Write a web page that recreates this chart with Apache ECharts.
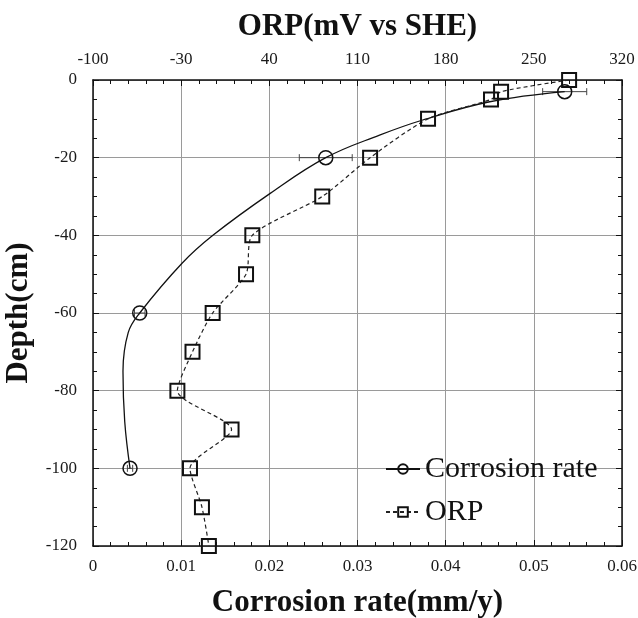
<!DOCTYPE html>
<html>
<head>
<meta charset="utf-8">
<script src="https://cdn.jsdelivr.net/npm/echarts@6/dist/echarts.min.js"></script>
<style>
  html,body{margin:0;padding:0;background:#fff;}
  #main{width:638px;height:618px;}
</style>
</head>
<body>
<div id="main"></div>
<script>
// corrosion rate markers (mm/y) vs depth (cm), with error bars
const corrDepth = [-3, -20, -60, -100]
const corrRate = [0.0535, 0.0264, 0.0053, 0.0042]
const corrErr = [0.0025, 0.003, 0.0006, 0.0003]

// fitted trend line of corrosion rate
const curveDepth = [-5.6, -10.3, -14.2, -29.2, -40, -47.2, -65, -75, -88]
const curveRate = [0.045, 0.0374, 0.0325, 0.0201, 0.0136, 0.0101, 0.0040, 0.0034, 0.0036]

// ORP (mV vs SHE) vs depth
const orpDepth = [0, -3, -5, -10, -20, -30, -40, -50, -60, -70, -80, -90, -100, -110, -120]
const orpValue = [278, 224, 216, 166, 120, 82, 26.5, 21.5, -5, -21, -33, 10, -23, -13.5, -8]

const serif = '"Liberation Serif", "Times New Roman", serif'

function initChart(){
  const myChart = echarts.init(document.querySelector('#main'))

  // merge markers and curve points in depth order, curve-only points get no symbol
  const corrLine = []
  corrDepth.forEach((d, i) => corrLine.push({ value: [corrRate[i], d] }))
  curveDepth.forEach((d, i) => corrLine.push({ value: [curveRate[i], d], symbol: 'none' }))
  corrLine.sort((a, b) => b.value[1] - a.value[1])

  const errData = corrDepth.map((d, i) => [corrRate[i], d, corrErr[i]])

  const axisLine = { show: true, onZero: false, lineStyle: { color: '#111', width: 1.5 } }
  const tick = { show: true, inside: true, length: 6, lineStyle: { color: '#111', width: 1 } }
  const minor = { show: true, length: 4, lineStyle: { color: '#111', width: 1 } }
  const label = { fontFamily: serif, fontSize: 17, color: '#1a1a1a' }
  const nameStyle = { fontFamily: serif, fontSize: 31, fontWeight: 'bold', color: '#111' }

  const option = {
    backgroundColor: '#fff',
    animation: false,
    grid: { left: 93, right: 16, top: 80, bottom: 72, outerBoundsMode: 'none', containLabel: false },
    legend: {
      orient: 'vertical',
      left: 380,
      top: 449,
      itemWidth: 34,
      itemHeight: 12,
      itemGap: 13,
      textStyle: { fontFamily: serif, fontSize: 30, color: '#111' },
      data: ['Corrosion rate', 'ORP']
    },
    xAxis: [
      {
        type: 'value',
        position: 'bottom',
        min: 0, max: 0.06, interval: 0.01,
        name: 'Corrosion rate(mm/y)',
        nameLocation: 'middle',
        nameGap: 41,
        nameTextStyle: nameStyle,
        axisLine: axisLine,
        axisTick: tick,
        minorTick: Object.assign({ splitNumber: 5 }, minor),
        axisLabel: Object.assign({ margin: 12 }, label),
        splitLine: { show: true, lineStyle: { color: '#9a9a9a', width: 1 } }
      },
      {
        type: 'value',
        position: 'top',
        min: -100, max: 320, interval: 70,
        name: 'ORP(mV vs SHE)',
        nameLocation: 'middle',
        nameGap: 38,
        nameTextStyle: nameStyle,
        axisLine: axisLine,
        axisTick: tick,
        minorTick: Object.assign({ splitNumber: 5 }, minor),
        axisLabel: Object.assign({ margin: 12 }, label),
        splitLine: { show: false }
      }
    ],
    yAxis: [
      {
        type: 'value',
        position: 'left',
        min: -120, max: 0, interval: 20,
        name: 'Depth(cm)',
        nameLocation: 'middle',
        nameGap: 48,
        nameTextStyle: nameStyle,
        axisLine: axisLine,
        axisTick: tick,
        minorTick: Object.assign({ splitNumber: 4 }, minor),
        axisLabel: Object.assign({ margin: 16 }, label),
        splitLine: { show: true, lineStyle: { color: '#9a9a9a', width: 1 } }
      },
      {
        type: 'value',
        position: 'right',
        min: -120, max: 0, interval: 20,
        axisLine: axisLine,
        axisTick: tick,
        minorTick: Object.assign({ splitNumber: 4 }, minor),
        axisLabel: { show: false },
        splitLine: { show: false }
      }
    ],
    series: [
      {
        name: 'Corrosion rate',
        type: 'line',
        xAxisIndex: 0,
        yAxisIndex: 0,
        smooth: 0.4,
        symbol: 'circle',
        symbolSize: 14,
        itemStyle: { color: 'rgba(255,255,255,0)', borderColor: '#111', borderWidth: 1.5 },
        lineStyle: { color: '#111', width: 1.3 },
        data: corrLine
      },
      {
        name: 'error',
        type: 'custom',
        xAxisIndex: 0,
        yAxisIndex: 0,
        z: 1,
        renderItem: function(params, api){
          const x = api.value(0), y = api.value(1), e = api.value(2)
          const p1 = api.coord([x - e, y])
          const p2 = api.coord([x + e, y])
          const c = 3.5
          const style = { stroke: '#444', lineWidth: 1, fill: null }
          return {
            type: 'group',
            children: [
              { type: 'line', shape: { x1: p1[0], y1: p1[1], x2: p2[0], y2: p2[1] }, style: style },
              { type: 'line', shape: { x1: p1[0], y1: p1[1] - c, x2: p1[0], y2: p1[1] + c }, style: style },
              { type: 'line', shape: { x1: p2[0], y1: p2[1] - c, x2: p2[0], y2: p2[1] + c }, style: style }
            ]
          }
        },
        data: errData
      },
      {
        name: 'ORP',
        type: 'line',
        xAxisIndex: 1,
        yAxisIndex: 0,
        smooth: 0.25,
        symbol: 'rect',
        symbolSize: 14,
        itemStyle: { color: 'rgba(255,255,255,0)', borderColor: '#111', borderWidth: 2 },
        lineStyle: { color: '#222', width: 1.2, type: [4, 3] },
        data: orpValue.map((v, i) => [v, orpDepth[i]])
      }
    ]
  }

  myChart.setOption(option)
}

initChart()
</script>
</body>
</html>
